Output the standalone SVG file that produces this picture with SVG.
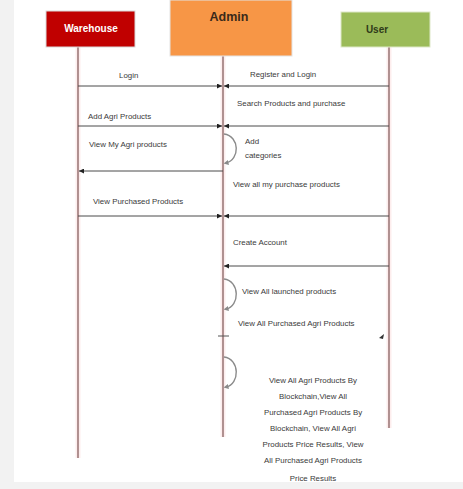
<svg xmlns="http://www.w3.org/2000/svg" width="463" height="489" viewBox="0 0 463 489">
<defs>
<style>
.t{font-family:"Liberation Sans",Arial,sans-serif;font-size:7.9px;fill:#3a3a3a}
.hd{font-family:"Liberation Sans",Arial,sans-serif;font-weight:bold;text-anchor:middle}
.glow{stroke:#fdeded;stroke-width:5;fill:none}
.life{stroke:#7d5252;stroke-width:1.2;fill:none}
.msg{stroke:#4a4a4a;stroke-width:1;fill:none}
.loop{stroke:#8a8a8a;stroke-width:1.4;fill:none}
</style>
<marker id="ah" viewBox="0 0 6 6" refX="6" refY="3" markerWidth="5" markerHeight="5" orient="auto" markerUnits="userSpaceOnUse">
<path d="M0,0 L6,3 L0,6 z" fill="#222"/>
</marker>
<marker id="la" viewBox="0 0 6 6" refX="3" refY="3" markerWidth="5" markerHeight="5" orient="auto" markerUnits="userSpaceOnUse">
<path d="M0,0 L6,3 L0,6 z" fill="#8a8a8a"/>
</marker>
</defs>
<rect x="0" y="0" width="463" height="489" fill="#f2f2f2"/>
<rect x="14" y="0" width="449" height="482" fill="#ffffff"/>

<g id="lifelines">
<line class="glow" x1="78" y1="47" x2="78" y2="458"/>
<line class="glow" x1="223" y1="56" x2="223" y2="437"/>
<line class="glow" x1="389" y1="47" x2="389" y2="428"/>
<line class="life" x1="78" y1="47" x2="78" y2="458"/>
<line class="life" x1="223" y1="56" x2="223" y2="437"/>
<line class="life" x1="389" y1="47" x2="389" y2="428"/>
</g>

<g id="warehouse">
<rect x="46" y="11" width="89" height="36" fill="#c00000" stroke="#d9d9d9" stroke-width="1"/>
<text class="hd" x="91" y="32" font-size="10" fill="#ffffff">Warehouse</text>
</g>
<g id="admin">
<rect x="170" y="0" width="122" height="56" fill="#f79646" stroke="#e4e4e4" stroke-width="1"/>
<text class="hd" x="229" y="21" font-size="12.5" fill="#3b2a1a">Admin</text>
</g>
<g id="user">
<rect x="341" y="12" width="89" height="35" fill="#9bbb59" stroke="#dde8c8" stroke-width="1"/>
<text class="hd" x="377" y="33" font-size="10" fill="#2f3a1a">User</text>
</g>

<g id="connectors">
<line class="msg" x1="78" y1="86" x2="222" y2="86" marker-end="url(#ah)"/>
<line class="msg" x1="389" y1="86" x2="224" y2="86" marker-end="url(#ah)"/>
<line class="msg" x1="78" y1="126" x2="222" y2="126" marker-end="url(#ah)"/>
<line class="msg" x1="389" y1="126" x2="224" y2="126" marker-end="url(#ah)"/>
<line class="msg" x1="223" y1="171" x2="79" y2="171" marker-end="url(#ah)"/>
<line class="msg" x1="78" y1="216" x2="222" y2="216" marker-end="url(#ah)"/>
<line class="msg" x1="389" y1="216" x2="224" y2="216" marker-end="url(#ah)"/>
<line class="msg" x1="389" y1="266" x2="224" y2="266" marker-end="url(#ah)"/>
<path class="loop" d="M224,134 C240,136 240,160 226,163" marker-end="url(#la)"/>
<path class="loop" d="M224,279 C240,281 240,306 226,309" marker-end="url(#la)"/>
<path class="loop" d="M224,357 C240,359 240,384 226,387" marker-end="url(#la)"/>
<line x1="218" y1="336" x2="229" y2="336" stroke="#555" stroke-width="1"/>
<path d="M379,338 L384,334 L383,339 z" fill="#333"/>
</g>

<g id="labels">
<text class="t" x="119" y="78">Login</text>
<text class="t" x="250" y="77">Register and Login</text>
<text class="t" x="237" y="106">Search Products and purchase</text>
<text class="t" x="88" y="119">Add Agri Products</text>
<text class="t" x="89" y="147">View My Agri products</text>
<text class="t" x="245" y="144">Add</text>
<text class="t" x="245" y="158">categories</text>
<text class="t" x="233" y="187">View all my purchase products</text>
<text class="t" x="93" y="204">View Purchased Products</text>
<text class="t" x="233" y="245">Create Account</text>
<text class="t" x="242" y="294">View All launched products</text>
<text class="t" x="238" y="326">View All Purchased Agri Products</text>
<g text-anchor="middle">
<text class="t" x="313" y="383">View All Agri Products By</text>
<text class="t" x="313" y="399">Blockchain,View All</text>
<text class="t" x="313" y="415">Purchased Agri Products By</text>
<text class="t" x="313" y="431">Blockchain, View All Agri</text>
<text class="t" x="313" y="447">Products Price Results, View</text>
<text class="t" x="313" y="463">All Purchased Agri Products</text>
<text class="t" x="313" y="481">Price Results</text>
</g>
</g>
</svg>
